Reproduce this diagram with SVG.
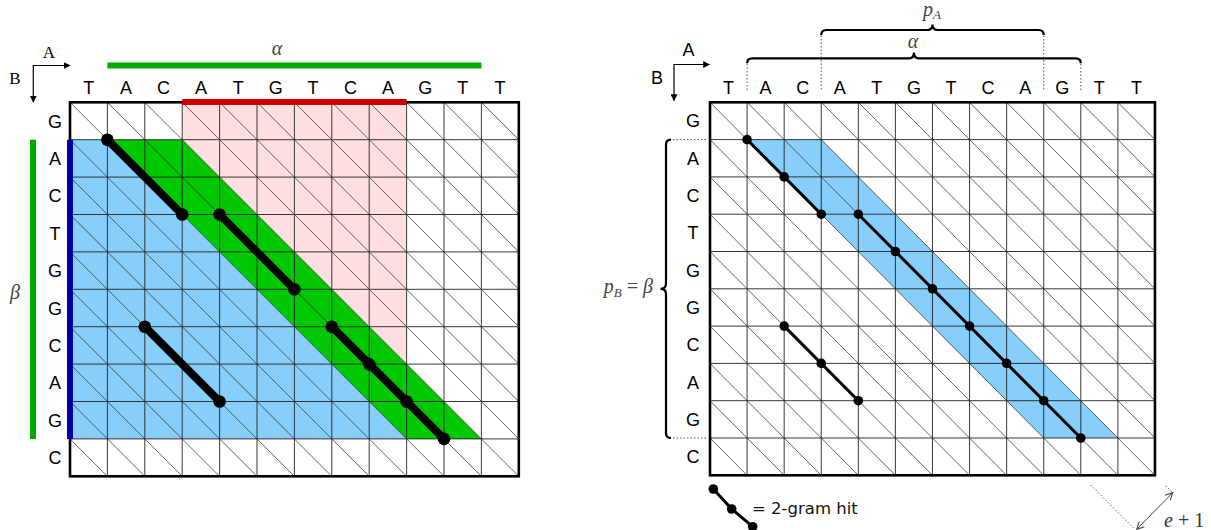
<svg xmlns="http://www.w3.org/2000/svg" width="1211" height="530" viewBox="0 0 1211 530">
<style>
.lbl{font-family:"Liberation Sans",Arial,sans-serif;font-size:18px;fill:#000;text-anchor:middle}
.math{font-family:"Liberation Serif","Times New Roman",serif;font-size:20px;fill:#444}
.grid{fill:none;stroke:#222;stroke-width:0.9}
.diag{fill:none;stroke:#333;stroke-width:0.75}
.frame{fill:none;stroke:#000;stroke-width:2.6}
.hitL{stroke:#000;stroke-width:8;stroke-linecap:round;fill:none}
.hitR{stroke:#000;stroke-width:3;fill:none}
.dot{fill:#000}
.dotted{stroke:#555;stroke-width:1;stroke-dasharray:1.5 2;fill:none}
.brace{fill:none;stroke:#000;stroke-width:2.2}
.ax{stroke:#000;stroke-width:1.2;fill:none}
</style>
<defs>
<marker id="ah" viewBox="0 0 10 10" refX="9" refY="5" markerWidth="7" markerHeight="7" markerUnits="userSpaceOnUse" orient="auto"><path d="M0,0 L10,5 L0,10 Z" fill="#000"/></marker>
<marker id="oa" viewBox="0 0 10 10" refX="9" refY="5" markerWidth="9" markerHeight="9" markerUnits="userSpaceOnUse" orient="auto-start-reverse"><path d="M1,1 L9,5 L1,9" fill="none" stroke="#444" stroke-width="1.2"/></marker>
</defs>
<rect width="1211" height="530" fill="#fff"/>

<!-- LEFT PANEL -->
<g id="left-fills">
<polygon points="182.2,102.3 406.6,102.3 406.6,364.1 182.2,139.7" fill="#ffdfdf"/>
<polygon points="70,139.7 107.4,139.7 406.6,438.9 70,438.9" fill="#87cefa"/>
<polygon points="107.4,139.7 182.2,139.7 481.4,438.9 406.6,438.9" fill="#00c800"/>
</g>
<g id="left-grid">
<path class="diag" d="M70 102.3l374 374M107.4 102.3l374 374M144.8 102.3l374 374M182.2 102.3l336.6 336.6M219.6 102.3l299.2 299.2M257 102.3l261.8 261.8M294.4 102.3l224.4 224.4M331.8 102.3l187 187M369.2 102.3l149.6 149.6M406.6 102.3l112.2 112.2M444 102.3l74.8 74.8M481.4 102.3l37.4 37.4M70 139.7l336.6 336.6M70 177.1l299.2 299.2M70 214.5l261.8 261.8M70 251.9l224.4 224.4M70 289.3l187 187M70 326.7l149.6 149.6M70 364.1l112.2 112.2M70 401.5l74.8 74.8M70 438.9l37.4 37.4"/>
<path class="grid" d="M107.4 102.3V476.3M144.8 102.3V476.3M182.2 102.3V476.3M219.6 102.3V476.3M257 102.3V476.3M294.4 102.3V476.3M331.8 102.3V476.3M369.2 102.3V476.3M406.6 102.3V476.3M444 102.3V476.3M481.4 102.3V476.3M70 139.7H518.8M70 177.1H518.8M70 214.5H518.8M70 251.9H518.8M70 289.3H518.8M70 326.7H518.8M70 364.1H518.8M70 401.5H518.8M70 438.9H518.8"/>
<rect class="frame" x="70" y="102.3" width="448.8" height="374"/>
</g>
<g id="left-bars">
<line x1="182.2" y1="102" x2="406.6" y2="102" stroke="#d00000" stroke-width="6"/>
<line x1="107.4" y1="65.5" x2="481.4" y2="65.5" stroke="#00aa00" stroke-width="6"/>
<line x1="33" y1="139.7" x2="33" y2="438.9" stroke="#00aa00" stroke-width="6"/>
<line x1="70" y1="139.7" x2="70" y2="438.9" stroke="#0000aa" stroke-width="6"/>
</g>
<g id="left-hits">
<path class="hitL" d="M107.4 139.7L182.2 214.5M219.6 214.5L294.4 289.3M331.8 326.7L444 438.9M144.8 326.7L219.6 401.5"/>
<g class="dot">
<circle cx="107.4" cy="139.7" r="6.3"/><circle cx="182.2" cy="214.5" r="6.3"/>
<circle cx="219.6" cy="214.5" r="6.3"/><circle cx="294.4" cy="289.3" r="6.3"/>
<circle cx="331.8" cy="326.7" r="6.3"/><circle cx="369.2" cy="364.1" r="6.3"/><circle cx="406.6" cy="401.5" r="6.3"/><circle cx="444" cy="438.9" r="6.3"/>
<circle cx="144.8" cy="326.7" r="6.3"/><circle cx="219.6" cy="401.5" r="6.3"/>
</g>
</g>
<g id="left-labels">
<text class="lbl" y="94"><tspan x="88.7">T</tspan><tspan x="126.1">A</tspan><tspan x="163.5">C</tspan><tspan x="200.9">A</tspan><tspan x="238.3">T</tspan><tspan x="275.7">G</tspan><tspan x="313.1">T</tspan><tspan x="350.5">C</tspan><tspan x="387.9">A</tspan><tspan x="425.3">G</tspan><tspan x="462.7">T</tspan><tspan x="500.1">T</tspan></text>
<text class="lbl"><tspan x="55" y="127.5">G</tspan><tspan x="55" y="164.9">A</tspan><tspan x="55" y="202.3">C</tspan><tspan x="55" y="239.7">T</tspan><tspan x="55" y="277.1">G</tspan><tspan x="55" y="314.5">G</tspan><tspan x="55" y="351.9">C</tspan><tspan x="55" y="389.3">A</tspan><tspan x="55" y="426.7">G</tspan><tspan x="55" y="464.1">C</tspan></text>
<text class="math" x="277" y="55" font-style="italic" text-anchor="middle">α</text>
<text class="math" x="15" y="299" font-style="italic" text-anchor="middle">β</text>
</g>
<g id="left-axes">
<line class="ax" x1="33.3" y1="65.5" x2="70" y2="65.5" marker-end="url(#ah)"/>
<line class="ax" x1="33.3" y1="65" x2="33.3" y2="102" marker-end="url(#ah)"/>
<text x="49" y="57.5" font-family="Liberation Serif,serif" font-size="17" text-anchor="middle">A</text>
<text x="15" y="84" font-family="Liberation Serif,serif" font-size="17" text-anchor="middle">B</text>
</g>

<!-- RIGHT PANEL -->
<g id="right-fills">
<polygon points="747.08,139.6 821.24,139.6 1117.88,438 1043.72,438" fill="#87cefa"/>
</g>
<g id="right-grid">
<path class="diag" d="M710 102.3l370.8 373M747.08 102.3l370.8 373M784.16 102.3l370.8 373M821.24 102.3l333.72 335.7M858.32 102.3l296.64 298.4M895.4 102.3l259.56 261.1M932.48 102.3l222.48 223.8M969.56 102.3l185.4 186.5M1006.64 102.3l148.32 149.2M1043.72 102.3l111.24 111.9M1080.8 102.3l74.16 74.6M1117.88 102.3l37.08 37.3M710 139.6l333.72 335.7M710 176.9l296.64 298.4M710 214.2l259.56 261.1M710 251.5l222.48 223.8M710 288.8l185.4 186.5M710 326.1l148.32 149.2M710 363.4l111.24 111.9M710 400.7l74.16 74.6M710 438l37.08 37.3"/>
<path class="grid" d="M747.08 102.3V475.3M784.16 102.3V475.3M821.24 102.3V475.3M858.32 102.3V475.3M895.4 102.3V475.3M932.48 102.3V475.3M969.56 102.3V475.3M1006.64 102.3V475.3M1043.72 102.3V475.3M1080.8 102.3V475.3M1117.88 102.3V475.3M710 139.6H1154.96M710 176.9H1154.96M710 214.2H1154.96M710 251.5H1154.96M710 288.8H1154.96M710 326.1H1154.96M710 363.4H1154.96M710 400.7H1154.96M710 438H1154.96"/>
<rect class="frame" x="710" y="102.3" width="444.96" height="373"/>
</g>
<g id="right-hits">
<path class="hitR" d="M747.08 139.6L784.16 176.9L821.24 214.2M858.32 214.2L1080.8 438M784.16 326.1L858.32 400.7"/>
<g class="dot">
<circle cx="747.08" cy="139.6" r="4.8"/><circle cx="784.16" cy="176.9" r="4.8"/><circle cx="821.24" cy="214.2" r="4.8"/>
<circle cx="858.32" cy="214.2" r="4.8"/><circle cx="895.4" cy="251.5" r="4.8"/><circle cx="932.48" cy="288.8" r="4.8"/><circle cx="969.56" cy="326.1" r="4.8"/><circle cx="1006.64" cy="363.4" r="4.8"/><circle cx="1043.72" cy="400.7" r="4.8"/><circle cx="1080.8" cy="438" r="4.8"/>
<circle cx="784.16" cy="326.1" r="4.8"/><circle cx="821.24" cy="363.4" r="4.8"/><circle cx="858.32" cy="400.7" r="4.8"/>
</g>
</g>
<g id="right-labels">
<text class="lbl" y="93.5"><tspan x="728.54">T</tspan><tspan x="765.62">A</tspan><tspan x="802.7">C</tspan><tspan x="839.78">A</tspan><tspan x="876.86">T</tspan><tspan x="913.94">G</tspan><tspan x="951.02">T</tspan><tspan x="988.1">C</tspan><tspan x="1025.18">A</tspan><tspan x="1062.26">G</tspan><tspan x="1099.34">T</tspan><tspan x="1136.42">T</tspan></text>
<text class="lbl"><tspan x="693" y="127.4">G</tspan><tspan x="693" y="164.7">A</tspan><tspan x="693" y="202">C</tspan><tspan x="693" y="239.3">T</tspan><tspan x="693" y="276.6">G</tspan><tspan x="693" y="313.9">G</tspan><tspan x="693" y="351.2">C</tspan><tspan x="693" y="388.5">A</tspan><tspan x="693" y="425.8">G</tspan><tspan x="693" y="463.1">C</tspan></text>
</g>
<g id="right-axes">
<line class="ax" x1="674" y1="64.5" x2="709.5" y2="64.5" marker-end="url(#ah)"/>
<line class="ax" x1="674" y1="64" x2="674" y2="100.5" marker-end="url(#ah)"/>
<text class="lbl" x="688.5" y="55.5" font-size="17">A</text>
<text class="lbl" x="657" y="83.5" font-size="17">B</text>
</g>
<g id="brace-alpha">
<path class="brace" d="M747.08 63.3Q747.08 58.3 752.08 58.3L908.94 58.3Q913.94 58.3 913.94 52.5Q913.94 58.3 918.94 58.3L1075.8 58.3Q1080.8 58.3 1080.8 63.3"/>
<path class="dotted" d="M747.08 64V91M1080.8 64V91"/>
<text class="math" x="913" y="48" font-style="italic" text-anchor="middle">α</text>
</g>
<g id="brace-pA">
<path class="brace" d="M821.24 35Q821.24 30 826.24 30L927.48 30Q932.48 30 932.48 24.5Q932.48 30 937.48 30L1038.72 30Q1043.72 30 1043.72 35"/>
<path class="dotted" d="M821.24 35.5V91M1043.72 35.5V91"/>
<text class="math" x="932" y="16" font-style="italic" text-anchor="middle">p<tspan font-size="13" dy="3">A</tspan></text>
</g>
<g id="brace-pB">
<path class="brace" d="M671 139.6Q666 139.6 666 144.6L666 283.8Q666 288.8 660.5 288.8Q666 288.8 666 293.8L666 433Q666 438 671 438"/>
<path class="dotted" d="M673 139.6H708M673 438H708"/>
<text class="math" x="653" y="293" text-anchor="end"><tspan font-style="italic">p</tspan><tspan font-style="italic" font-size="13" dy="4">B</tspan><tspan dy="-4"> = </tspan><tspan font-style="italic">β</tspan></text>
</g>
<g id="width-marker">
<path class="dotted" d="M1090.7 485L1134 528.5M1165.7 485.7L1172 492"/>
<line x1="1136.7" y1="529.3" x2="1172.7" y2="492.7" stroke="#444" stroke-width="1" marker-start="url(#oa)" marker-end="url(#oa)"/>
<text x="1164" y="527" font-family="Liberation Serif,serif" font-size="20" fill="#333"><tspan font-style="italic">e</tspan> + 1</text>
</g>
<g id="legend">
<path class="hitR" d="M713.3 489L731.7 509L752.7 526.7"/>
<circle class="dot" cx="713.3" cy="489" r="4.8"/><circle class="dot" cx="731.7" cy="509" r="4.8"/><circle class="dot" cx="752.7" cy="526.7" r="4.8"/>
<text x="752" y="514" font-family="DejaVu Sans,sans-serif" font-size="16.5" fill="#111">= 2-gram hit</text>
</g>
</svg>
